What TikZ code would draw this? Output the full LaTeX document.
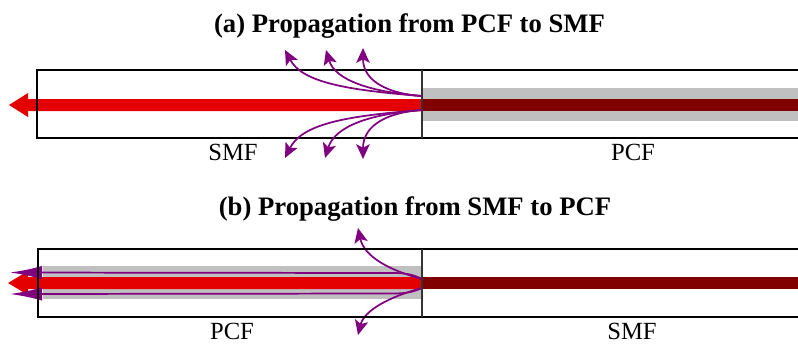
\documentclass[tikz,border=0pt]{standalone}
\usepackage{fontspec}
\setmainfont{Liberation Serif}
\usetikzlibrary{arrows.meta}
\definecolor{redbeam}{RGB}{228,0,0}
\definecolor{darkbeam}{RGB}{128,0,0}
\definecolor{cladgray}{RGB}{192,192,192}
\definecolor{leak}{RGB}{128,0,128}
\tikzset{
  fiberbox/.style={line width=1.6pt, draw=black},
  divider/.style={line width=0.8pt, draw=black!80},
  leakarrow/.style={draw=leak, line width=1.3pt, -{Stealth[length=11pt,width=10pt,inset=2.5pt]}},
  leakline/.style={draw=leak, line width=1.3pt, -{Latex[length=24pt,width=10pt]}},
  title/.style={font=\fontsize{20}{23}\selectfont\bfseries, anchor=base, inner sep=0pt},
  lab/.style={font=\fontsize{18.5}{22}\selectfont, anchor=base, inner sep=0pt}
}
\begin{document}
\begin{tikzpicture}[x=0.75pt,y=-0.75pt]
\useasboundingbox (0,0) rectangle (798,344);
% ---------- (a) ----------
\node[title] (ta) at (409.5,32) {(a) Propagation from PCF to SMF};
\fill[cladgray] (422,88) rectangle (798,121);
\fill[darkbeam] (422,99) rectangle (798,111);
\fill[redbeam] (422,99) -- (28,99) -- (28,93) -- (9,105) -- (28,117) -- (28,111) -- (422,111) -- cycle;
\draw[fiberbox] (798,70) -- (37,70) -- (37,138) -- (798,138);
\draw[divider] (422,70) -- (422,138);
\coordinate (ja) at (422,96);
\coordinate (jb) at (422,110);
\coordinate (u1) at (285,50);
\coordinate (u2) at (326,50);
\coordinate (u3) at (363,48);
\coordinate (d1) at (285,158);
\coordinate (d2) at (325,158);
\coordinate (d3) at (363,159);
\draw[leakarrow] (ja) .. controls (345,90) and (302,82) .. (u1);
\draw[leakarrow] (ja) .. controls (370,92) and (335,80) .. (u2);
\draw[leakarrow] (ja) .. controls (390,94) and (363,82) .. (u3);
\draw[leakarrow] (jb) .. controls (345,116) and (302,124) .. (d1);
\draw[leakarrow] (jb) .. controls (370,114) and (335,126) .. (d2);
\draw[leakarrow] (jb) .. controls (390,112) and (363,124) .. (d3);
\node[lab] (smfa) at (233,160) {SMF};
\node[lab] (pcfa) at (633,160) {PCF};
% ---------- (b) ----------
\node[title] (tb) at (415,215) {(b) Propagation from SMF to PCF};
\fill[cladgray] (43,266) rectangle (422,299);
\fill[darkbeam] (422,277) rectangle (798,289);
\fill[redbeam] (422,277) -- (28,277) -- (28,271) -- (8,283) -- (28,295) -- (28,289) -- (422,289) -- cycle;
\coordinate (jc) at (422,279);
\coordinate (jd) at (422,288);
\coordinate (lu) at (10,272.5);
\coordinate (ld) at (10,294);
\coordinate (bu) at (358,228);
\coordinate (bd) at (358,335);
\draw[leakline] (jc) .. controls (412,274) and (405,273) .. (392,273) -- (lu);
\draw[leakline] (jd) .. controls (412,292.5) and (405,293.5) .. (392,293.5) -- (ld);
\draw[leakarrow] (jc) .. controls (388,270) and (364,256) .. (bu);
\draw[leakarrow] (jd) .. controls (388,297) and (364,311) .. (bd);
\draw[fiberbox] (798,249) -- (38,249) -- (38,317) -- (798,317);
\draw[divider] (422,249) -- (422,317);
\node[lab] (pcfb) at (232,339.5) {PCF};
\node[lab] (smfb) at (632,339.5) {SMF};
\end{tikzpicture}
\end{document}
